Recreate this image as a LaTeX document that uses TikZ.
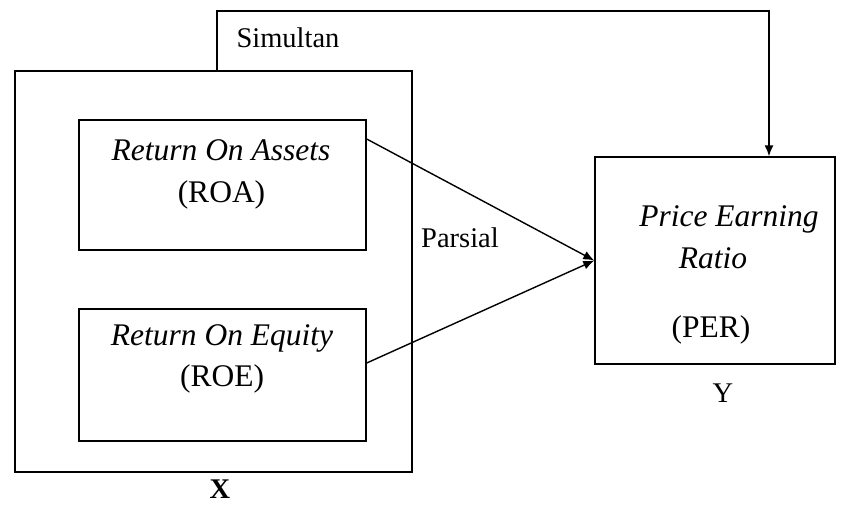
\documentclass[tikz,border=0pt]{standalone}
\usepackage{fontspec}
\setmainfont{Liberation Serif}
\usetikzlibrary{arrows.meta}

\begin{document}
\begin{tikzpicture}[x=1pt,y=-1pt,line width=1.4pt,
        box/.style={draw,rectangle,inner sep=0pt},
        var/.style={anchor=base,font=\fontsize{31.5}{42}\selectfont},
        lbl/.style={anchor=base,font=\fontsize{28.5}{34}\selectfont},
        tip/.style={-{Latex[length=11pt,width=9pt]}}]
    \useasboundingbox (0,0) rectangle (848,504);

    % Variable X
    \node[box,minimum width=397pt,minimum height=401pt] (x) at (213.5,271.5) {};
    \node[lbl,font=\fontsize{28.5}{34}\selectfont\bfseries] (xlbl) at (220,498) {X};

    % ROA
    \node[box,minimum width=287pt,minimum height=130pt] (roa) at (222.5,185) {};
    \node[var,font=\fontsize{31.5}{42}\selectfont\itshape] (roaname) at (221,160) {Return On Assets};
    \node[var] (roaabbr) at (221.5,202) {(ROA)};

    % ROE
    \node[box,minimum width=287pt,minimum height=132pt] (roe) at (222.5,375) {};
    \node[var,font=\fontsize{31.5}{42}\selectfont\itshape] (roename) at (222,345) {Return On Equity};
    \node[var] (roeabbr) at (222,386) {(ROE)};

    % Variable Y
    \node[box,minimum width=240pt,minimum height=207pt] (per) at (715,260.5) {};
    \node[var,font=\fontsize{31.5}{42}\selectfont\itshape] (pername1) at (729,226) {Price Earning};
    \node[var,font=\fontsize{31.5}{42}\selectfont\itshape] (pername2) at (713,268) {Ratio};
    \node[var] (perabbr) at (711,337) {(PER)};
    \node[lbl] (ylbl) at (723,402) {Y};

    % Partial effects
    \node[lbl] (parsial) at (460,247) {Parsial};
    \draw[tip] ([yshift=46pt]roa.east) -- (per.west);
    \draw[tip] ([yshift=12pt]roe.east) -- (per.west);

    % Simultaneous effect
    \coordinate (s1) at (217,11);
    \coordinate (s2) at (769,11);
    \node[lbl] (simultan) at (288,47) {Simultan};
    \draw[tip] (x.north -| s1) -- (s1) -- (s2) -- (per.north -| s2);
\end{tikzpicture}
\end{document}
